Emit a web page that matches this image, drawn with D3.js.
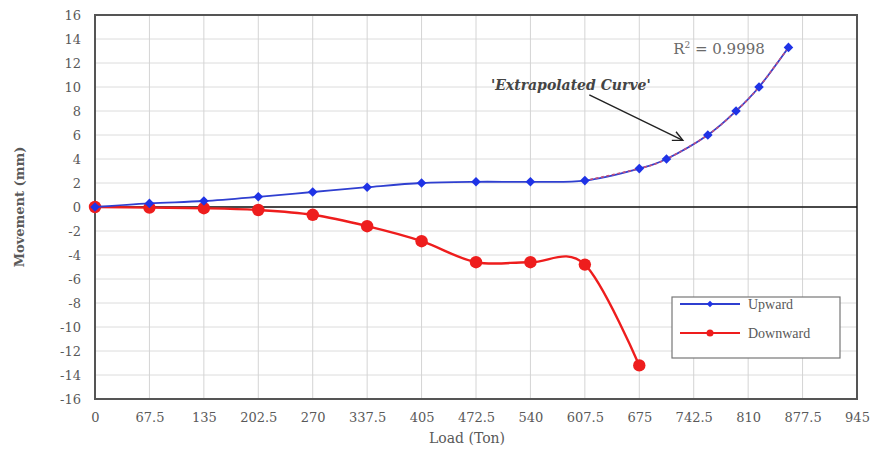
<!DOCTYPE html>
<html>
<head>
<meta charset="utf-8">
<script src="https://cdn.jsdelivr.net/npm/d3@7"></script>
<style>
  html, body { margin: 0; padding: 0; background: #fff; }
  svg { display: block; }
</style>
</head>
<body>
<svg id="chart" width="874" height="456"></svg>
<script>
// Pile load test: movement vs load
const loadTicks = [0, 67.5, 135, 202.5, 270, 337.5, 405, 472.5, 540, 607.5, 675, 742.5, 810, 877.5, 945];
const movementTicks = [-16, -14, -12, -10, -8, -6, -4, -2, 0, 2, 4, 6, 8, 10, 12, 14, 16];

const measuredLoads = [0, 67.5, 135, 202.5, 270, 337.5, 405, 472.5, 540, 607.5, 675];
const upwardMeasured = [0, 0.3, 0.5, 0.85, 1.25, 1.65, 2.0, 2.1, 2.1, 2.2, 3.2];
const downward = [0, -0.05, -0.1, -0.25, -0.65, -1.6, -2.85, -4.6, -4.6, -4.8, -13.2];

// points on the fitted (extrapolated) upward curve
const extrapLoads = [708.75, 760, 795, 823.5, 860];
const upwardExtrap = [4, 6, 8, 10, 13.3];

const rSquared = "0.9998";

const svg = d3.select("#chart");
const margin = { left: 95, right: 17, top: 15, bottom: 57 };
const W = 874, H = 456;

const x = d3.scaleLinear().domain([0, 945]).range([margin.left, W - margin.right]);
const y = d3.scaleLinear().domain([-16, 16]).range([H - margin.bottom, margin.top]);

const serif = "'DejaVu Serif', 'Liberation Serif', serif";
const textGray = "#595959";

// gridlines
const grid = svg.append("g");
grid.selectAll("line.h").data(movementTicks).join("line")
  .attr("x1", x(0)).attr("x2", x(945))
  .attr("y1", d => y(d)).attr("y2", d => y(d))
  .attr("stroke", "#dcdcdc").attr("stroke-width", 1);
grid.selectAll("line.v").data(loadTicks).join("line")
  .attr("y1", y(-16)).attr("y2", y(16))
  .attr("x1", d => x(d)).attr("x2", d => x(d))
  .attr("stroke", "#d4d4d4").attr("stroke-width", 1);

// axes (labels only, ticks hidden)
const xAxis = svg.append("g")
  .attr("transform", `translate(0,${y(-16)})`)
  .call(d3.axisBottom(x).tickValues(loadTicks).tickSize(0).tickPadding(14).tickFormat(d => String(d)));
const yAxis = svg.append("g")
  .attr("transform", `translate(${x(0)},0)`)
  .call(d3.axisLeft(y).tickValues(movementTicks).tickSize(0).tickPadding(14).tickFormat(d => String(d)));
[xAxis, yAxis].forEach(a => {
  a.select(".domain").remove();
  a.selectAll("text").attr("font-family", serif).attr("font-size", 13).attr("fill", textGray);
});

// plot frame
svg.append("rect")
  .attr("x", x(0)).attr("y", y(16))
  .attr("width", x(945) - x(0)).attr("height", y(-16) - y(16))
  .attr("fill", "none").attr("stroke", "#555").attr("stroke-width", 2);

// zero line
svg.append("line")
  .attr("x1", x(0)).attr("x2", x(945)).attr("y1", y(0)).attr("y2", y(0))
  .attr("stroke", "#111").attr("stroke-width", 1.6);

const smooth = d3.line().x(d => x(d[0])).y(d => y(d[1])).curve(d3.curveCardinal.tension(0));

const blue = "#2f3fd0", blueMark = "#1f33e6";
const red = "#ee1d1d";

const upPts = measuredLoads.map((l, i) => [l, upwardMeasured[i]])
  .concat(extrapLoads.map((l, i) => [l, upwardExtrap[i]]));
const downPts = measuredLoads.map((l, i) => [l, downward[i]]);

// downward series
svg.append("path").attr("d", smooth(downPts))
  .attr("fill", "none").attr("stroke", red).attr("stroke-width", 2.4);
svg.selectAll("circle.down").data(downPts).join("circle")
  .attr("cx", d => x(d[0])).attr("cy", d => y(d[1])).attr("r", 6.2)
  .attr("fill", red);

// upward series
svg.append("path").attr("d", smooth(upPts))
  .attr("fill", "none").attr("stroke", blue).attr("stroke-width", 1.8);

// fitted trend over the extrapolated range
const trendPts = upPts.filter(d => d[0] >= 607.5);
svg.append("path").attr("d", smooth(trendPts))
  .attr("fill", "none").attr("stroke", "#c0507f").attr("stroke-width", 1.6)
  .attr("stroke-dasharray", "3,2.5");

const diamond = d3.symbol(d3.symbolSquare, 46);
svg.selectAll("path.up").data(upPts).join("path")
  .attr("d", diamond)
  .attr("transform", d => `translate(${x(d[0])},${y(d[1])}) rotate(45)`)
  .attr("fill", blueMark);

// annotations
svg.append("text")
  .attr("x", x(717)).attr("y", y(12.75))
  .attr("font-family", serif).attr("font-size", 15).attr("fill", "#6a6a6a")
  .html("R<tspan font-size='9' dy='-6'>2</tspan><tspan dy='6'> = " + rSquared + "</tspan>");

svg.append("text")
  .attr("x", x(491)).attr("y", y(9.75))
  .attr("font-family", serif).attr("font-size", 14).attr("font-style", "italic")
  .attr("font-weight", "bold").attr("fill", "#444")
  .text("'Extrapolated Curve'");

const ax0 = [613, 9.35], ax1 = [729, 5.55];
svg.append("line")
  .attr("x1", x(ax0[0])).attr("y1", y(ax0[1]))
  .attr("x2", x(ax1[0])).attr("y2", y(ax1[1]))
  .attr("stroke", "#222").attr("stroke-width", 1.4);
{
  const ex = x(ax1[0]), ey = y(ax1[1]);
  const ang = Math.atan2(ey - y(ax0[1]), ex - x(ax0[0]));
  const len = 11, spread = 0.45;
  const p1 = [ex - len * Math.cos(ang - spread), ey - len * Math.sin(ang - spread)];
  const p2 = [ex - len * Math.cos(ang + spread), ey - len * Math.sin(ang + spread)];
  svg.append("path")
    .attr("d", `M${p1[0]},${p1[1]}L${ex},${ey}L${p2[0]},${p2[1]}`)
    .attr("fill", "none").attr("stroke", "#222").attr("stroke-width", 1.4);
}

// axis titles
svg.append("text")
  .attr("x", 467).attr("y", 443).attr("text-anchor", "middle")
  .attr("font-family", serif).attr("font-size", 14).attr("fill", textGray)
  .text("Load (Ton)");
svg.append("text")
  .attr("transform", `translate(24,${y(0)}) rotate(-90)`)
  .attr("text-anchor", "middle")
  .attr("font-family", serif).attr("font-size", 13).attr("font-weight", "bold").attr("fill", textGray)
  .text("Movement (mm)");

// legend
const legend = svg.append("g").attr("transform", "translate(672,297)");
legend.append("rect").attr("width", 168).attr("height", 61)
  .attr("fill", "#fff").attr("stroke", "#777").attr("stroke-width", 1.2);
const legendItems = [
  { name: "Upward", color: blue, mark: "diamond" },
  { name: "Downward", color: red, mark: "circle" }
];
legendItems.forEach((it, i) => {
  const g = legend.append("g").attr("transform", `translate(0,${7 + i * 29})`);
  g.append("line").attr("x1", 8).attr("x2", 68).attr("stroke", it.color).attr("stroke-width", 1.8);
  if (it.mark === "diamond") {
    g.append("path").attr("d", d3.symbol(d3.symbolSquare, 22)).attr("transform", "translate(38,0) rotate(45)").attr("fill", blueMark);
  } else {
    g.append("circle").attr("cx", 38).attr("r", 3.5).attr("fill", it.color);
  }
  g.append("text").attr("x", 76).attr("y", 4.5)
    .attr("font-family", "'Liberation Serif', serif").attr("font-size", 14).attr("fill", textGray)
    .text(it.name);
});
</script>
</body>
</html>
